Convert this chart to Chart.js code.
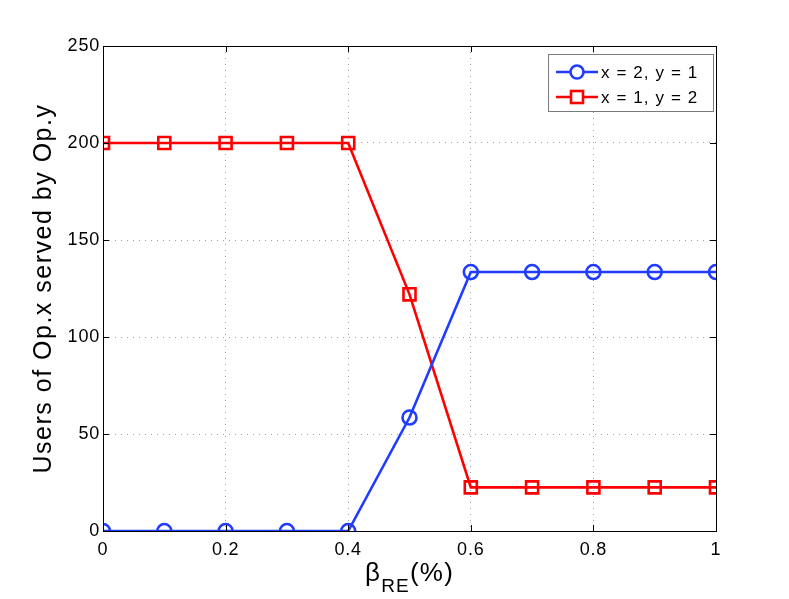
<!DOCTYPE html>
<html>
<head>
<meta charset="utf-8">
<script src="https://cdn.jsdelivr.net/npm/chart.js@4.4.1/dist/chart.umd.min.js"></script>
<style>
  html, body { margin: 0; padding: 0; background: #fff; }
  #wrap { width: 789px; height: 599px; }
</style>
</head>
<body>
<div id="wrap"><canvas id="myChart"></canvas></div>
<script>
const xValues = [0, 0.1, 0.2, 0.3, 0.4, 0.5, 0.6, 0.7, 0.8, 0.9, 1];
const blueValues = [0, 0, 0, 0, 0, 58.5, 133.5, 133.5, 133.5, 133.5, 133.5];
const redValues = [200, 200, 200, 200, 200, 122, 22.5, 22.5, 22.5, 22.5, 22.5];
const seriesNames = ["x = 2, y = 1", "x = 1, y = 2"];
const xTicks = [0, 0.2, 0.4, 0.6, 0.8, 1];
const yTicks = [0, 50, 100, 150, 200, 250];

const blue = "#1f3cff";
const red = "#ff0000";
const font = "Liberation Sans, Arial, Helvetica, sans-serif";

function toPoints(ys) {
  return xValues.map((x, i) => ({ x: x, y: ys[i] }));
}

// box, inner tick marks, axis titles and legend drawn like the matlab figure
const matlabLook = {
  id: "matlabLook",
  beforeDraw(chart) {
    // matlab text is spaced a bit wider than plain canvas text
    chart.ctx.letterSpacing = "0.8px";
  },
  afterDraw(chart) {
    const ctx = chart.ctx;
    const a = chart.chartArea;
    const xs = chart.scales.x;
    const ys = chart.scales.y;
    ctx.save();

    ctx.strokeStyle = "#000";
    ctx.lineWidth = 1;
    ctx.beginPath();
    xTicks.forEach(v => {
      const px = Math.round(xs.getPixelForValue(v)) + 0.5;
      ctx.moveTo(px, a.bottom); ctx.lineTo(px, a.bottom - 6);
      ctx.moveTo(px, a.top); ctx.lineTo(px, a.top + 6);
    });
    yTicks.forEach(v => {
      const py = Math.round(ys.getPixelForValue(v)) + 0.5;
      ctx.moveTo(a.left, py); ctx.lineTo(a.left + 6, py);
      ctx.moveTo(a.right, py); ctx.lineTo(a.right - 6, py);
    });
    ctx.stroke();
    ctx.strokeRect(Math.round(a.left) + 0.5, Math.round(a.top) + 0.5,
      Math.round(a.right - a.left), Math.round(a.bottom - a.top));

    // y title
    ctx.fillStyle = "#000";
    ctx.save();
    ctx.letterSpacing = "1.5px";
    ctx.translate(43, (a.top + a.bottom) / 2);
    ctx.rotate(-Math.PI / 2);
    ctx.font = "25px " + font;
    ctx.textAlign = "center";
    ctx.textBaseline = "alphabetic";
    ctx.fillText("Users of Op.x served by Op.y", 0, 8);
    ctx.restore();

    // x title with subscript
    ctx.letterSpacing = "1.2px";
    const mid = (a.left + a.right) / 2;
    ctx.font = "26px " + font;
    const w1 = ctx.measureText("\u03b2").width;
    ctx.font = "19px " + font;
    const w2 = ctx.measureText("RE").width;
    ctx.font = "26px " + font;
    const w3 = ctx.measureText("(%)").width;
    let sx = mid - (w1 + w2 + w3) / 2;
    ctx.textAlign = "left";
    ctx.fillText("\u03b2", sx, 581);
    ctx.font = "19px " + font;
    ctx.fillText("RE", sx + w1, 592);
    ctx.font = "26px " + font;
    ctx.fillText("(%)", sx + w1 + w2, 581);

    // legend
    const lx = 548, ly = 54, lw = 165, lh = 57;
    ctx.fillStyle = "#fff";
    ctx.fillRect(lx, ly, lw, lh);
    ctx.strokeStyle = "#7a7a7a";
    ctx.lineWidth = 1;
    ctx.strokeRect(lx + 0.5, ly + 0.5, lw, lh);
    chart.data.datasets.forEach((ds, i) => {
      const cy = 72 + i * 25;
      ctx.strokeStyle = ds.borderColor;
      ctx.lineWidth = 2.6;
      ctx.beginPath();
      ctx.moveTo(556, cy); ctx.lineTo(598, cy);
      ctx.stroke();
      if (ds.pointStyle === "circle") {
        ctx.beginPath();
        ctx.arc(577, cy, 6.5, 0, Math.PI * 2);
        ctx.fillStyle = "#fff";
        ctx.fill();
        ctx.stroke();
      } else {
        ctx.fillStyle = "#fff";
        ctx.fillRect(571, cy - 6, 12, 12);
        ctx.strokeRect(571, cy - 6, 12, 12);
      }
      ctx.fillStyle = "#000";
      ctx.font = "17px " + font;
      ctx.letterSpacing = "1.1px";
      ctx.textBaseline = "middle";
      ctx.fillText(ds.label, 601, cy + 1);
    });
    ctx.restore();
  }
};

new Chart("myChart", {
  type: "line",
  data: {
    datasets: [{
      label: seriesNames[0],
      data: toPoints(blueValues),
      borderColor: blue,
      borderWidth: 2.6,
      pointStyle: "circle",
      pointRadius: 7,
      pointBorderWidth: 2.6,
      pointBackgroundColor: "rgba(0,0,0,0)",
      pointBorderColor: blue,
      tension: 0
    }, {
      label: seriesNames[1],
      data: toPoints(redValues),
      borderColor: red,
      borderWidth: 2.6,
      pointStyle: "rect",
      pointRadius: 8.5,
      pointBorderWidth: 2.6,
      pointBackgroundColor: "rgba(0,0,0,0)",
      pointBorderColor: red,
      tension: 0
    }]
  },
  options: {
    responsive: true,
    maintainAspectRatio: false,
    animation: false,
    devicePixelRatio: 1,
    layout: { padding: { left: 0, top: 46, right: 73, bottom: 0 } },
    plugins: {
      legend: { display: false },
      tooltip: { enabled: false }
    },
    scales: {
      x: {
        type: "linear",
        min: 0,
        max: 1,
        afterFit: s => { s.height = 68; },
        afterBuildTicks: s => { s.ticks = xTicks.map(v => ({ value: v })); },
        border: { display: false, dash: [1, 5] },
        grid: {
          color: "#a0a0a0",
          lineWidth: 1,
          drawTicks: false
        },
        ticks: {
          padding: 8,
          color: "#000",
          font: { family: font, size: 18 },
          maxRotation: 0,
          callback: v => String(v)
        }
      },
      y: {
        min: 0,
        max: 250,
        afterFit: s => { s.width = 103; },
        afterBuildTicks: s => { s.ticks = yTicks.map(v => ({ value: v })); },
        border: { display: false, dash: [1, 5] },
        grid: {
          color: "#a0a0a0",
          lineWidth: 1,
          drawTicks: false
        },
        ticks: {
          padding: 3,
          color: "#000",
          font: { family: font, size: 18 },
          callback: v => String(v)
        }
      }
    }
  },
  plugins: [matlabLook]
});
</script>
</body>
</html>
